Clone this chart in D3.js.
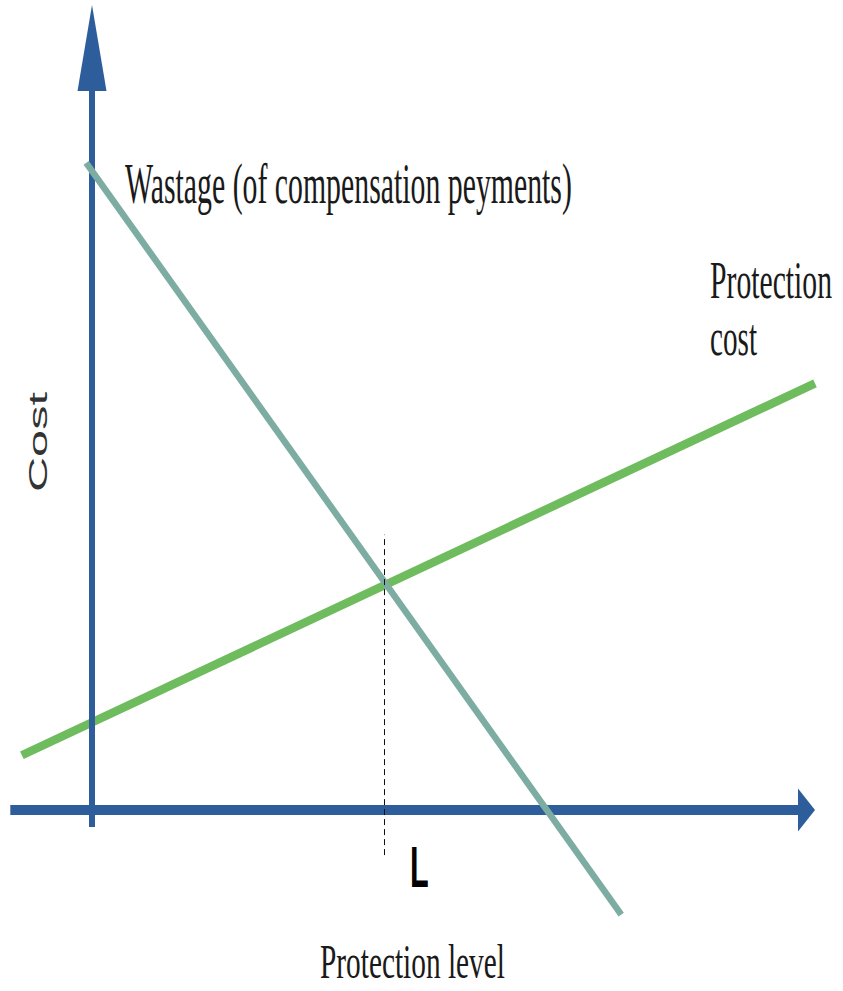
<!DOCTYPE html>
<html><head><meta charset="utf-8">
<script src="https://cdn.jsdelivr.net/npm/d3@7"></script>
<style>html,body{margin:0;padding:0;background:#fff;}svg{display:block;}</style>
</head><body>
<script>
// Data (abstract units: protection level on x, cost on y)
const wastageX = [-0.8, 73.2];
const wastageY = [80.4, -13.0];
const protectionX = [-9.7, 100];
const protectionY = [6.8, 53.0];
const levelL = 40.4;
const levelLineY = [-5.6, 34.2];
const xAxisExtent = [-11.3, 100];
const yAxisExtent = [-2.1, 100];
const labels = {
  wastage: "Wastage (of compensation peyments)",
  protection: ["Protection", "cost"],
  xTitle: "Protection level",
  yTitle: "Cost",
  level: "L"
};

const W = 843, H = 991;
const svg = d3.select("body").append("svg").attr("width", W).attr("height", H);
const x = d3.scaleLinear().domain([0, 100]).range([92, 815]);
const y = d3.scaleLinear().domain([0, 100]).range([810, 5]);

const axisColor = "#2D5E9B";
const line = d3.line().x(d => x(d[0])).y(d => y(d[1]));

// Protection cost line (green)
svg.append("path").datum(d3.zip(protectionX, protectionY))
  .attr("d", line).attr("stroke", "#6FBC5E").attr("stroke-width", 8.5).attr("fill", "none");

// Y axis
svg.append("line").attr("x1", x(0)).attr("x2", x(0))
  .attr("y1", y(yAxisExtent[0])).attr("y2", y(yAxisExtent[1]) + 60)
  .attr("stroke", axisColor).attr("stroke-width", 6);
svg.append("path")
  .attr("d", `M${x(0)},${y(yAxisExtent[1])} L${x(0) + 14.5},${y(yAxisExtent[1]) + 86} L${x(0) - 14.5},${y(yAxisExtent[1]) + 86} Z`)
  .attr("fill", axisColor);

// X axis
svg.append("line").attr("x1", x(xAxisExtent[0])).attr("x2", x(xAxisExtent[1]) - 12)
  .attr("y1", y(0)).attr("y2", y(0))
  .attr("stroke", axisColor).attr("stroke-width", 10);
svg.append("path")
  .attr("d", `M${x(xAxisExtent[1])},${y(0)} L${x(xAxisExtent[1]) - 17},${y(0) - 21.5} L${x(xAxisExtent[1]) - 17},${y(0) + 21.5} Z`)
  .attr("fill", axisColor);

// Wastage line (teal)
svg.append("path").datum(d3.zip(wastageX, wastageY))
  .attr("d", line).attr("stroke", "#7DADA2").attr("stroke-width", 6.5).attr("fill", "none");

// Dashed level line
const lx = Math.round(x(levelL)) + 0.5;
svg.append("line").attr("x1", lx).attr("x2", lx)
  .attr("y1", y(levelLineY[0])).attr("y2", y(levelLineY[1]))
  .attr("stroke", "#111").attr("stroke-width", 1).attr("stroke-dasharray", "6,4");

const serif = "'Liberation Serif', 'DejaVu Serif', serif";
const sans = "'Liberation Sans', Arial, sans-serif";
// Text stretched vertically: font size chosen so the natural width matches,
// then scaled in y to reach the apparent em height.
function txt(s, px, py, em, len, fam, rot) {
  const t = svg.append("text").text(s)
    .attr("font-family", fam).attr("font-size", 100).attr("fill", "#1a1a1a");
  const w = t.node().getComputedTextLength();
  const fs = 100 * len / w;
  t.attr("font-size", fs)
   .attr("transform", `translate(${px},${py})${rot ? " rotate(" + rot + ")" : ""} scale(1,${em / fs})`);
  return t;
}
txt(labels.wastage, 125, 203, 56, 447, serif);
txt(labels.protection[0], 710, 298, 52, 122, serif);
txt(labels.protection[1], 710, 355, 52, 47, serif);
txt(labels.xTitle, 320, 978, 49, 185, serif);
txt(labels.level, 410, 887, 58, 17, sans).attr("font-weight", "bold").attr("fill", "#000");
txt(labels.yTitle, 47, 492, 26, 100, sans, -90).attr("fill", "#333");
</script>
</body></html>
